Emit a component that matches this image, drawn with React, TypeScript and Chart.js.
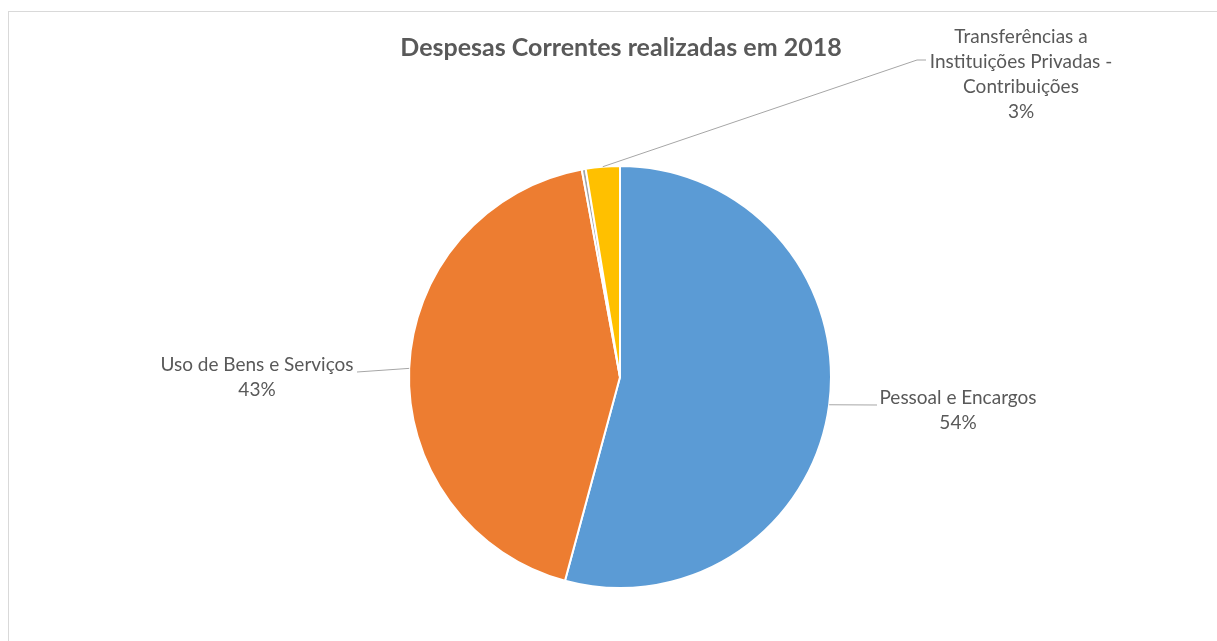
import { useEffect, useRef } from "react";
import { Chart, registerables } from "chart.js";

Chart.register(...registerables);

const chartTitle = "Despesas Correntes realizadas em 2018";
const categories = [
  "Pessoal e Encargos",
  "Uso de Bens e Serviços",
  "Outras Despesas",
  "Transferências a Instituições Privadas - Contribuições",
];
const values = [54.2, 42.9, 0.3, 2.6];
const percentLabels = ["54%", "43%", "", "3%"];
const labelLines = [
  ["Pessoal e Encargos", "54%"],
  ["Uso de Bens e Serviços", "43%"],
  [],
  ["Transferências a", "Instituições Privadas -", "Contribuições", "3%"],
];
const sliceColors = ["#5B9BD5", "#ED7D31", "#A5A5A5", "#FFC000"];

// label placement, relative to the pie centre (layout only)
const LABEL_LAYOUT = [
  { tx: 338, ty: 21, pts: [[257, 28]] },
  { tx: -363, ty: -12, pts: [[-263, -5]] },
  null,
  { tx: 401, ty: -340, pts: [[297, -317], [306, -317]] },
];

const TEXT_COLOR = "#595959";
const LINE_H = 25;
const FONT = "Lato, 'Open Sans', sans-serif";

const decorPlugin = {
  id: "decor",
  afterDraw(chart: any) {
    const ctx = chart.ctx as CanvasRenderingContext2D;
    const meta = chart.getDatasetMeta(0);
    ctx.save();
    // outer frame
    ctx.strokeStyle = "#D9D9D9";
    ctx.lineWidth = 1;
    ctx.strokeRect(8.5, 11.5, chart.width + 20, chart.height + 20);
    // title
    ctx.fillStyle = TEXT_COLOR;
    ctx.font = `bold 25px ${FONT}`;
    ctx.textAlign = "center";
    ctx.textBaseline = "middle";
    ctx.fillText(chartTitle, 621, 48);
    // data labels with leader lines
    meta.data.forEach((arc: any, i: number) => {
      const lay = LABEL_LAYOUT[i];
      if (!lay || !labelLines[i].length) return;
      const { x, y, startAngle, endAngle, outerRadius } = arc.getProps(
        ["x", "y", "startAngle", "endAngle", "outerRadius"],
        true
      );
      const mid = (startAngle + endAngle) / 2;
      const ex = x + Math.cos(mid) * outerRadius;
      const ey = y + Math.sin(mid) * outerRadius;
      ctx.strokeStyle = "#A6A6A6";
      ctx.lineWidth = 1;
      ctx.beginPath();
      ctx.moveTo(ex, ey);
      lay.pts.forEach((p) => ctx.lineTo(x + p[0], y + p[1]));
      ctx.stroke();
      ctx.fillStyle = TEXT_COLOR;
      ctx.font = `19px ${FONT}`;
      ctx.textAlign = "center";
      ctx.textBaseline = "middle";
      labelLines[i].forEach((line, k) => {
        ctx.fillText(line, x + lay.tx, y + lay.ty + k * LINE_H);
      });
    });
    ctx.restore();
  },
};

export default function App() {
  const ref = useRef<HTMLCanvasElement | null>(null);
  useEffect(() => {
    if (!ref.current) return;
    const chart = new Chart(ref.current, {
      type: "pie",
      data: {
        labels: categories,
        datasets: [
          {
            data: values,
            backgroundColor: sliceColors,
            borderColor: "#FFFFFF",
            borderWidth: 2,
          },
        ],
      },
      options: {
        animation: false,
        responsive: true,
        maintainAspectRatio: false,
        layout: { padding: { top: 165, bottom: 52, left: 408, right: 385 } },
        plugins: {
          legend: { display: false },
          title: { display: false },
          tooltip: { enabled: false },
        },
      },
      plugins: [decorPlugin],
    });
    return () => chart.destroy();
  }, []);
  return (
    <div
      style={{
        position: "fixed",
        left: 0,
        top: 0,
        width: 1217,
        height: 641,
        background: "#FFFFFF",
      }}
    >
      <canvas ref={ref} />
    </div>
  );
}
